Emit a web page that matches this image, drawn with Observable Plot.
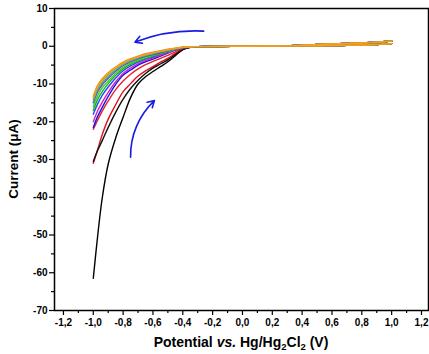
<!DOCTYPE html>
<html>
<head>
<meta charset="utf-8">
<script src="https://cdn.jsdelivr.net/npm/d3@7"></script>
<script src="https://cdn.jsdelivr.net/npm/@observablehq/plot@0.6"></script>
<style>
  html, body { margin: 0; padding: 0; background: #fff; }
  #chart svg { display: block; }
</style>
</head>
<body>
<div id="chart"></div>
<script>
// ---- tick values ----
const xTicks = [-1.2, -1.0, -0.8, -0.6, -0.4, -0.2, 0.0, 0.2, 0.4, 0.6, 0.8, 1.0, 1.2];
const xMinor = [-1.1, -0.9, -0.7, -0.5, -0.3, -0.1, 0.1, 0.3, 0.5, 0.7, 0.9, 1.1];
const yTicks = [-70, -60, -50, -40, -30, -20, -10, 0, 10];
const yMinor = [-65, -55, -45, -35, -25, -15, -5, 5];

// ---- potential grids (V) ----
const kneeX = [-1.0, -0.97, -0.94, -0.9, -0.85, -0.8, -0.75, -0.7, -0.65, -0.6, -0.55, -0.5, -0.45, -0.4, -0.35];
const flatX = [-0.3, -0.2, 0.0, 0.2, 0.3];
const flatY = [-0.1, -0.05, 0.0, 0.05, 0.1];
const rightX = [0.4, 0.5, 0.6, 0.7, 0.8, 0.9, 1.0];
const rightUpperY = [0.3, 0.45, 0.58, 0.72, 0.88, 1.08, 1.35];
const rightLowerY = [0.1, 0.12, 0.16, 0.24, 0.34, 0.48, 0.7];

// ---- cycles: names, colours, cathodic branch currents (µA) ----
const cycleNames = ["c1", "c2", "c3", "c4", "c5", "c6", "c7", "c8", "c9", "c10", "c11", "c12", "c13", "c14"];
const cycleColors = ["#000000", "#e0101a", "#111111", "#e8202a", "#1414e6", "#d020c8", "#2846ff", "#12b812", "#3ad03a", "#8a2ea8", "#22b4c4", "#a8a420", "#f08a10", "#f5a025"];
const c1  = [-61.5, -50, -40.2, -31.2, -24.3, -18.8, -13.6, -10.0, -8.1, -6.7, -5.4, -4.1, -2.5, -0.9, -0.3];
const c2  = [-31, -27.3, -23.4, -19.3, -15.5, -12, -9.9, -7.9, -6.5, -5.4, -4.2, -3.2, -1.9, -0.8, -0.3];
const c3  = [-30.5, -27.5, -25, -21.5, -17.5, -14, -11.2, -9, -7.2, -5.8, -4.7, -3.6, -2.2, -0.9, -0.3];
const c4  = [-22, -19.5, -17.2, -14.5, -11.5, -9.2, -7.4, -6.0, -4.9, -4.0, -3.2, -2.4, -1.5, -0.6, -0.25];
const c5  = [-21.5, -18.5, -16.2, -13.3, -10.1, -7.7, -6.3, -5.0, -4.1, -3.4, -2.6, -1.8, -1.0, -0.45, -0.2];
const c6  = [-20, -17, -14.8, -12.2, -9.4, -7.2, -5.8, -4.7, -3.8, -3.1, -2.4, -1.7, -0.95, -0.4, -0.2];
const c7  = [-18, -15.2, -13, -10.8, -8.4, -6.5, -5.2, -4.2, -3.4, -2.8, -2.1, -1.5, -0.85, -0.4, -0.18];
const c8  = [-17, -14, -12, -9.9, -7.7, -6.0, -4.8, -3.9, -3.2, -2.6, -2.0, -1.4, -0.8, -0.35, -0.17];
const c9  = [-16, -13, -11, -9.2, -7.2, -5.6, -4.5, -3.6, -2.9, -2.4, -1.8, -1.3, -0.75, -0.33, -0.16];
const c10 = [-15, -12, -10.2, -8.5, -6.6, -5.1, -4.1, -3.3, -2.7, -2.2, -1.7, -1.2, -0.7, -0.3, -0.15];
const c11 = [-14.5, -11.5, -9.8, -8.1, -6.3, -4.9, -3.9, -3.1, -2.5, -2.0, -1.5, -1.1, -0.65, -0.3, -0.15];
const c12 = [-14, -11, -9.3, -7.6, -5.9, -4.6, -3.6, -2.9, -2.3, -1.8, -1.4, -1.0, -0.6, -0.28, -0.14];
const c13 = [-13.2, -10.3, -8.6, -7.0, -5.5, -4.2, -3.3, -2.6, -2.0, -1.55, -1.15, -0.8, -0.5, -0.25, -0.12];
const c14 = [-13.5, -10.6, -8.9, -7.3, -5.7, -4.4, -3.5, -2.8, -2.2, -1.7, -1.3, -0.9, -0.55, -0.27, -0.13];
const kneeY = [c1, c2, c3, c4, c5, c6, c7, c8, c9, c10, c11, c12, c13, c14];

// ---- arrows (V, µA) ----
const arrowTop = {x1: -0.26, y1: 4.0, x2: -0.72, y2: 1.1};
const arrowBottom = {x1: -0.75, y1: -29.4, x2: -0.59, y2: -14.4};

// build the loop of each cycle: forward sweep 1.0 -> -1.0, then back to 1.0
const rows = [];
kneeY.forEach((ky, i) => {
  const pts = [];
  for (let j = rightX.length - 1; j >= 0; j--) pts.push([rightX[j], rightUpperY[j]]);
  for (let j = flatX.length - 1; j >= 0; j--) pts.push([flatX[j], flatY[j]]);
  for (let j = kneeX.length - 1; j >= 0; j--) pts.push([kneeX[j], ky[j]]);
  for (let j = 0; j < kneeX.length; j++) pts.push([kneeX[j], ky[j]]);
  for (let j = 0; j < flatX.length; j++) pts.push([flatX[j], flatY[j]]);
  for (let j = 0; j < rightX.length; j++) pts.push([rightX[j], rightLowerY[j]]);
  pts.forEach(([x, y]) => rows.push({cycle: cycleNames[i], color: cycleColors[i], x, y}));
});

const fmtX = d => (Math.abs(d) < 1e-9 ? 0 : d).toFixed(1).replace(".", ",");
const FONT = "Arimo, 'Liberation Sans', Arial, sans-serif";

const plot = Plot.plot({
  width: 429,
  height: 354,
  marginLeft: 54,
  marginRight: 1,
  marginTop: 8,
  marginBottom: 44,
  style: {fontFamily: FONT, fontSize: "10px", fontWeight: "bold", color: "#000", background: "#fff"},
  x: {domain: [-1.26, 1.247]},
  y: {domain: [-70, 10]},
  color: {type: "identity"},
  marks: [
    Plot.line(rows, {x: "x", y: "y", z: "cycle", stroke: "color", strokeWidth: 1.4, curve: "catmull-rom"}),
    Plot.arrow([arrowTop], {x1: "x1", y1: "y1", x2: "x2", y2: "y2", bend: -12, stroke: "#1a1ae6", strokeWidth: 1.6, headLength: 7}),
    Plot.arrow([arrowBottom], {x1: "x1", y1: "y1", x2: "x2", y2: "y2", bend: 24, stroke: "#1a1ae6", strokeWidth: 1.6, headLength: 7}),
    Plot.axisX(xTicks, {tickSize: 5, tickPadding: 3, tickFormat: fmtX, label: null, strokeWidth: 1.2, fontWeight: "bold", fontSize: 10}),
    Plot.axisX(xMinor, {tickSize: 3, text: null, label: null, strokeWidth: 1.2}),
    Plot.axisY(yTicks, {tickSize: 5, tickPadding: 2, tickFormat: d => String(d), label: null, strokeWidth: 1.2, fontWeight: "bold", fontSize: 10}),
    Plot.axisY(yMinor, {tickSize: 3, text: null, label: null, strokeWidth: 1.2}),
    Plot.frame({stroke: "#000", strokeWidth: 1.5})
  ]
});

document.getElementById("chart").appendChild(plot);

// axis titles as real text (with subscripts / italics)
const svg = d3.select(plot);
const xt = svg.append("text")
  .attr("x", 241).attr("y", 347)
  .attr("text-anchor", "middle")
  .attr("font-size", 14).attr("font-weight", "bold")
  .attr("font-family", FONT)
  .attr("fill", "#000");
xt.append("tspan").text("Potential ");
xt.append("tspan").attr("font-style", "italic").text("vs.");
xt.append("tspan").text(" Hg/Hg");
xt.append("tspan").attr("font-size", 9.5).attr("dy", 3).text("2");
xt.append("tspan").attr("dy", -3).text("Cl");
xt.append("tspan").attr("font-size", 9.5).attr("dy", 3).text("2");
xt.append("tspan").attr("dy", -3).text(" (V)");

svg.append("text")
  .attr("transform", "translate(18,159) rotate(-90)")
  .attr("text-anchor", "middle")
  .attr("font-size", 13.5).attr("font-weight", "bold")
  .attr("font-family", FONT)
  .attr("fill", "#000")
  .text("Current (\u03BCA)");
</script>
</body>
</html>
